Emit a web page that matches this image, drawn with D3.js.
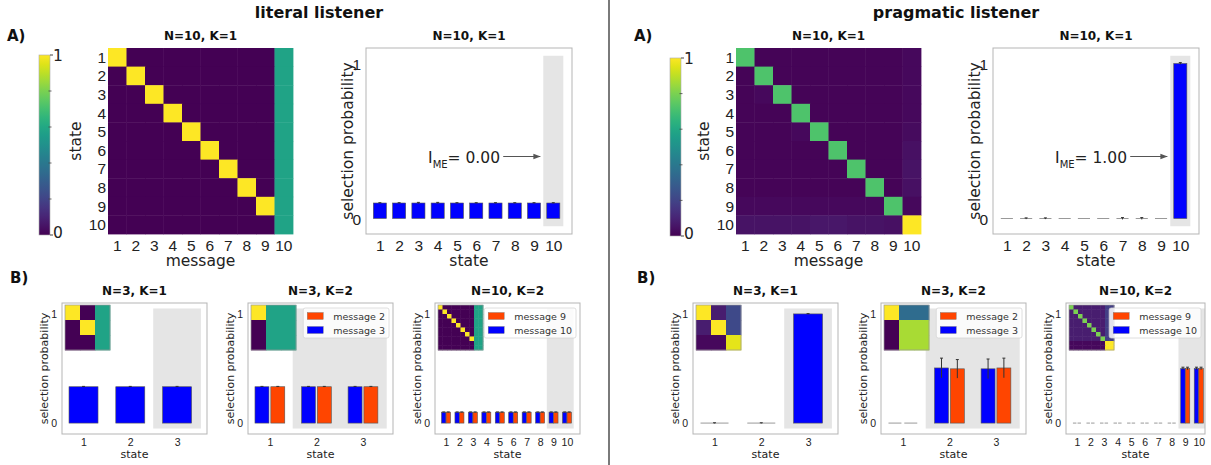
<!DOCTYPE html>
<html><head><meta charset="utf-8">
<script src="https://cdn.jsdelivr.net/npm/d3@7"></script>
<style>body{margin:0;background:#fff} svg{display:block;font-family:"DejaVu Sans",sans-serif}</style>
</head><body><svg id="c" width="1211" height="465"></svg>
<script>
// ---------------- DATA ----------------
const states10 = [1,2,3,4,5,6,7,8,9,10];
const states3 = [1,2,3];
const headers = ["literal listener", "pragmatic listener"];
const titlesTop = ["N=10, K=1", "N=10, K=1"];
const titlesBottom = ["N=3, K=1", "N=3, K=2", "N=10, K=2"];
const imeLabels = ["= 0.00", "= 1.00"];

// top heatmaps (rows = state, cols = message)
const litHeatN10K1 = [
 [1,0,0,0,0,0,0,0,0,0.58],
 [0,1,0,0,0,0,0,0,0,0.58],
 [0,0,1,0,0,0,0,0,0,0.58],
 [0,0,0,1,0,0,0,0,0,0.58],
 [0,0,0,0,1,0,0,0,0,0.58],
 [0,0,0,0,0,1,0,0,0,0.58],
 [0,0,0,0,0,0,1,0,0,0.58],
 [0,0,0,0,0,0,0,1,0,0.58],
 [0,0,0,0,0,0,0,0,1,0.58],
 [0,0,0,0,0,0,0,0,0,0.58]
];
const pragHeatN10K1 = [
 [0.72,0.01,0.01,0.01,0.01,0.01,0.01,0.01,0.01,0.02],
 [0.01,0.72,0.01,0.01,0.01,0.01,0.01,0.01,0.01,0.02],
 [0.01,0.02,0.72,0.01,0.01,0.01,0.01,0.01,0.01,0.02],
 [0.01,0.01,0.01,0.72,0.01,0.01,0.01,0.01,0.01,0.02],
 [0.01,0.01,0.01,0.02,0.72,0.01,0.01,0.01,0.01,0.03],
 [0.01,0.01,0.01,0.01,0.01,0.72,0.01,0.01,0.01,0.04],
 [0.01,0.01,0.01,0.01,0.01,0.01,0.72,0.01,0.01,0.05],
 [0.01,0.01,0.01,0.01,0.01,0.01,0.01,0.72,0.01,0.04],
 [0.02,0.02,0.02,0.02,0.02,0.02,0.02,0.02,0.72,0.02],
 [0.05,0.05,0.05,0.05,0.06,0.06,0.05,0.05,0.04,1.00]
];

// top bar charts (selection probability per state)
const litTopValues = [0.1,0.1,0.1,0.1,0.1,0.1,0.1,0.1,0.1,0.1];
const litTopErr    = [0.002,0.002,0.004,0.004,0.002,0.002,0.002,0.002,0.002,0.002];
const pragTopValues = [0,0,0,0,0,0,0,0,0,1.0];
const pragTopErr    = [0,0.004,0.004,0,0,0,0.006,0.006,0,0.006];

// bottom insets
const litInsetN3K1 = [[1,0,0.58],[0,1,0.58],[0,0,0.58]];
const litInsetN3K2 = [[1,0.58,0.58],[0,0.58,0.58],[0,0.58,0.58]];
const litInsetN10K2 = [
 [1,0,0,0,0,0,0,0,0.58,0.58],
 [0,1,0,0,0,0,0,0,0.58,0.58],
 [0,0,1,0,0,0,0,0,0.58,0.58],
 [0,0,0,1,0,0,0,0,0.58,0.58],
 [0,0,0,0,1,0,0,0,0.58,0.58],
 [0,0,0,0,0,1,0,0,0.58,0.58],
 [0,0,0,0,0,0,1,0,0.58,0.58],
 [0,0,0,0,0,0,0,1,0.58,0.58],
 [0,0,0,0,0,0,0,0,0.58,0.58],
 [0,0,0,0,0,0,0,0,0.58,0.58]
];
const pragInsetN3K1 = [[1,0.08,0.22],[0.08,1,0.22],[0.02,0.02,0.96]];
const pragInsetN3K2 = [[1,0.35,0.35],[0,0.87,0.87],[0,0.87,0.87]];
const pragInsetN10K2 = [
 [0.8,0.08,0.08,0.08,0.08,0.08,0.08,0.08,0.18,0.18],
 [0.08,0.8,0.08,0.08,0.08,0.08,0.08,0.08,0.18,0.18],
 [0.08,0.08,0.8,0.08,0.08,0.08,0.08,0.08,0.18,0.18],
 [0.08,0.08,0.08,0.8,0.08,0.08,0.08,0.08,0.18,0.18],
 [0.08,0.08,0.08,0.08,0.8,0.08,0.08,0.08,0.18,0.18],
 [0.08,0.08,0.08,0.08,0.08,0.8,0.08,0.08,0.18,0.18],
 [0.08,0.08,0.08,0.08,0.08,0.08,0.8,0.08,0.18,0.18],
 [0.08,0.08,0.08,0.08,0.08,0.08,0.08,0.8,0.18,0.18],
 [0.02,0.02,0.02,0.02,0.02,0.02,0.02,0.02,1,1],
 [0.02,0.02,0.02,0.02,0.02,0.02,0.02,0.02,1,1]
];

// bottom bars
const litN3K1Values = [0.333,0.333,0.333];
const litN3K1Err    = [0.003,0.003,0.003];
const litN3K2Msg3   = [0.333,0.333,0.333];
const litN3K2Msg2   = [0.333,0.333,0.333];
const litN3K2Err    = [0.003,0.003,0.003];
const litN10K2Msg10 = [0.1,0.1,0.1,0.1,0.1,0.1,0.1,0.1,0.1,0.1];
const litN10K2Msg9  = [0.1,0.1,0.1,0.1,0.1,0.1,0.1,0.1,0.1,0.1];
const litN10K2Err   = [0.002,0.002,0.002,0.002,0.002,0.002,0.002,0.002,0.002,0.002];

const pragN3K1Values = [0,0,1.0];
const pragN3K1Err    = [0.003,0.003,0.003];
const pragN3K2Msg3   = [0,0.505,0.497];
const pragN3K2Msg2   = [0,0.497,0.505];
const pragN3K2Err3   = [0,0.09,0.09];
const pragN3K2Err2   = [0,0.085,0.09];
const pragN10K2Msg10 = [0,0,0,0,0,0,0,0,0.5,0.5];
const pragN10K2Msg9  = [0,0,0,0,0,0,0,0,0.5,0.5];
const pragN10K2Err   = [0,0,0,0,0,0,0,0,0.012,0.012];

const legendN3  = ["message 2", "message 3"];
const legendN10 = ["message 9", "message 10"];

// ---------------- DRAWING ----------------
const BLUE = "#0000ff", ORANGE = "#ff4500", SHADE = "#e5e5e5", FRAME = "#b5b5b5";
const svg = d3.select("#c");
const viridis = d3.scaleSequential(d3.interpolateViridis).domain([0, 1]);

// colorbar gradient
const defs = svg.append("defs");
const grad = defs.append("linearGradient").attr("id", "vir").attr("x1", 0).attr("y1", 1).attr("x2", 0).attr("y2", 0);
d3.range(0, 1.0001, 0.05).forEach(t => grad.append("stop").attr("offset", t).attr("stop-color", viridis(t)));
defs.append("marker").attr("id", "arr").attr("viewBox", "0 0 10 10").attr("refX", 10).attr("refY", 5)
  .attr("markerWidth", 7).attr("markerHeight", 7).attr("markerUnits", "userSpaceOnUse").attr("orient", "auto")
  .append("path").attr("d", "M0,1 L10,5 L0,9 z").attr("fill", "#555");

function txt(g, x, y, s, size, opt = {}) {
  return g.append("text").attr("x", x).attr("y", y).text(s)
    .attr("font-size", size).attr("font-weight", opt.bold ? "bold" : null)
    .attr("text-anchor", opt.anchor || "start").attr("fill", opt.fill || "#222")
    .attr("transform", opt.rot ? `rotate(-90,${x},${y})` : null);
}

function heatmap(g, m, b, axes) {
  const xs = d3.scaleBand().domain(d3.range(m[0].length)).range([b.x0, b.x1]);
  const ys = d3.scaleBand().domain(d3.range(m.length)).range([b.y0, b.y1]);
  g.append("g").selectAll("rect").data(m.flatMap((row, i) => row.map((v, j) => ({ i, j, v }))))
    .join("rect").attr("x", d => xs(d.j)).attr("y", d => ys(d.i))
    .attr("width", xs.bandwidth() + 0.4).attr("height", ys.bandwidth() + 0.4)
    .attr("fill", d => viridis(d.v));
  if (!axes) {
    g.append("rect").attr("x", b.x0).attr("y", b.y0).attr("width", b.x1 - b.x0).attr("height", b.y1 - b.y0)
      .attr("fill", "none").attr("stroke", "#999").attr("stroke-width", 0.7);
    return;
  }
  const ax = g.append("g").attr("transform", `translate(0,${b.y1})`)
    .call(d3.axisBottom(xs).tickSize(0).tickFormat(i => i + 1));
  ax.select(".domain").remove();
  ax.selectAll("text").attr("y", 17).attr("dy", null).attr("font-size", 15.5).attr("fill", "#222").attr("font-family", null);
  const ay = g.append("g").attr("transform", `translate(${b.x0},0)`)
    .call(d3.axisLeft(ys).tickSize(0).tickFormat(i => i + 1));
  ay.select(".domain").remove();
  ay.selectAll("text").attr("x", -2).attr("dy", "0.36em").attr("font-size", 15.5).attr("fill", "#222").attr("font-family", null);
}

function colorbar(g, c) {
  g.append("rect").attr("x", c.x).attr("y", c.y0).attr("width", c.w).attr("height", c.y1 - c.y0)
    .attr("fill", "url(#vir)").attr("stroke", "#aaa").attr("stroke-width", 0.6);
  const s = d3.scaleLinear().domain([0, 1]).range([c.y1, c.y0]);
  g.selectAll(null).data([0.2, 0.4, 0.6, 0.8]).join("line")
    .attr("x1", c.x + c.w - 1.5).attr("x2", c.x + c.w + 1.5).attr("y1", d => s(d)).attr("y2", d => s(d))
    .attr("stroke", "#444").attr("stroke-width", 0.8);
  g.append("line").attr("x1", c.x + c.w).attr("x2", c.x + c.w + 3).attr("y1", c.y0).attr("y2", c.y0).attr("stroke", "#444");
  g.append("line").attr("x1", c.x + c.w).attr("x2", c.x + c.w + 3).attr("y1", c.y1).attr("y2", c.y1).attr("stroke", "#444");
  txt(g, c.x + c.w + 3, s(1) + 6, "1", 15.5);
  txt(g, c.x + c.w + 3, s(0) + 3, "0", 15.5);
}

function barPanel(g, o) {
  const x = d3.scaleLinear().domain(o.xDomain).range([o.x0, o.x1]);
  const y = d3.scaleLinear().domain([-0.1, 1.1]).range([o.y1, o.y0]);
  g.append("rect").attr("x", x(o.shade[0])).attr("width", Math.min(x(o.shade[1]), o.x1) - x(o.shade[0]))
    .attr("y", y(1.05)).attr("height", y(-0.05) - y(1.05)).attr("fill", SHADE);
  o.series.forEach(s => {
    const w = x(s.width) - x(0);
    const data = o.states.map((st, i) => ({ cx: x(st + s.offset), v: s.values[i], e: s.err[i] }));
    const gs = g.append("g");
    gs.selectAll("rect").data(data.filter(d => d.v > 0)).join("rect")
      .attr("x", d => d.cx - w / 2).attr("width", w).attr("y", d => y(d.v)).attr("height", d => y(0) - y(d.v))
      .attr("fill", s.color).attr("stroke", "#555").attr("stroke-width", 0.6);
    gs.selectAll("line.z").data(data.filter(d => d.v === 0)).join("line").attr("class", "z")
      .attr("x1", d => d.cx - w / 2 + 0.5).attr("x2", d => d.cx + w / 2 - 0.5).attr("y1", y(0)).attr("y2", y(0))
      .attr("stroke", "#999").attr("stroke-width", 1);
    gs.selectAll("line.e").data(data.filter(d => d.e > 0)).join("line").attr("class", "e")
      .attr("x1", d => d.cx).attr("x2", d => d.cx).attr("y1", d => y(d.v - d.e)).attr("y2", d => y(d.v + d.e))
      .attr("stroke", "#333").attr("stroke-width", 1);
    gs.selectAll("line.c").data(data.filter(d => d.e > 0)).join("line").attr("class", "c")
      .attr("x1", d => d.cx - 1.5).attr("x2", d => d.cx + 1.5).attr("y1", d => y(d.v + d.e)).attr("y2", d => y(d.v + d.e))
      .attr("stroke", "#333").attr("stroke-width", 1);
  });
  g.append("rect").attr("x", o.x0).attr("y", o.y0).attr("width", o.x1 - o.x0).attr("height", o.y1 - o.y0)
    .attr("fill", "none").attr("stroke", FRAME).attr("stroke-width", 1);
  if (o.inset) heatmap(g, o.inset, { x0: o.x0 + 3, x1: o.x0 + 48, y0: o.y0 + 2, y1: o.y0 + 47 }, false);
  if (o.legend) {
    const lg = g.append("g");
    const items = o.legend;
    const tmp = txt(lg, 0, 0, items[1].label, 9.5);
    const tw = tmp.node().getComputedTextLength(); tmp.remove();
    const W = 30 + tw + 4, lx = o.x1 - 4 - W, ly = o.y0 + 5;
    lg.append("rect").attr("x", lx).attr("y", ly).attr("width", W).attr("height", 30).attr("rx", 2)
      .attr("fill", "#fff").attr("fill-opacity", 0.85).attr("stroke", "#d5d5d5").attr("stroke-width", 0.8);
    items.forEach((it, k) => {
      const cy = ly + 8 + 14 * k;
      lg.append("rect").attr("x", lx + 4).attr("y", cy - 3.5).attr("width", 16).attr("height", 7)
        .attr("fill", it.color).attr("stroke", "#777").attr("stroke-width", 0.4);
      txt(lg, lx + 30, cy + 3.5, it.label, 9.5, { fill: "#333" });
    });
  }
  // axes
  const ax = g.append("g").attr("transform", `translate(0,${o.y1})`)
    .call(d3.axisBottom(x).tickValues(o.states).tickSize(0).tickFormat(d3.format("d")));
  ax.select(".domain").remove();
  ax.selectAll("text").attr("y", o.tickDy).attr("dy", null).attr("font-size", o.tickSize).attr("fill", "#222").attr("font-family", null);
  const ay = g.append("g").attr("transform", `translate(${o.x0},0)`)
    .call(d3.axisLeft(y).tickValues([0, 1]).tickSize(0).tickFormat(d3.format("d")));
  ay.select(".domain").remove();
  ay.selectAll("text").attr("x", -5).attr("dy", "0.36em").attr("font-size", o.tickSize).attr("fill", "#222").attr("font-family", null);
  txt(g, (o.x0 + o.x1) / 2, o.y0 - 8, o.title, 12, { bold: true, anchor: "middle", fill: "#111" });
  txt(g, (o.x0 + o.x1) / 2, o.xlabY, "state", o.labelSize, { anchor: "middle" });
  txt(g, o.ylabX, (o.y0 + o.y1) / 2, "selection probability", o.labelSize, { anchor: "middle", rot: true });
  if (o.ime) {
    const t = g.append("text").attr("x", x(o.ime.tx)).attr("y", y(0.4) + 6).attr("font-size", 15.5).attr("fill", "#222");
    t.append("tspan").text("I");
    t.append("tspan").text("ME").attr("font-size", 10).attr("dy", 5);
    t.append("tspan").text(o.ime.label).attr("dy", -5);
    g.append("line").attr("x1", x(7.4)).attr("x2", x(9.33)).attr("y1", y(0.4)).attr("y2", y(0.4))
      .attr("stroke", "#555").attr("stroke-width", 1.2).attr("marker-end", "url(#arr)");
  }
}

// ---------- layout ----------
const sides = [
  { header: 319, A: 7, B: 10, cbar: { x: 39, w: 11, y0: 55, y1: 235 }, heat: { x0: 108, x1: 293, y0: 48, y1: 234 },
    bar: [366, 572], bottom: [[62, 207], [248, 393], [435, 580]], n10dom: [0.18, 10.97],
    heatData: litHeatN10K1, topVals: litTopValues, topErr: litTopErr, ime: imeLabels[0],
    insets: [litInsetN3K1, litInsetN3K2, litInsetN10K2],
    b1: [{ v: litN3K1Values, e: litN3K1Err }],
    b2: [{ v: litN3K2Msg3, e: litN3K2Err }, { v: litN3K2Msg2, e: litN3K2Err }],
    b3: [{ v: litN10K2Msg10, e: litN10K2Err }, { v: litN10K2Msg9, e: litN10K2Err }] },
  { header: 956, A: 634, B: 637, cbar: { x: 670, w: 11, y0: 58, y1: 236 }, heat: { x0: 736, x1: 921, y0: 48, y1: 234 },
    bar: [993, 1199], bottom: [[693, 838], [881, 1026], [1066, 1205]], n10dom: [0.19, 10.46],
    heatData: pragHeatN10K1, topVals: pragTopValues, topErr: pragTopErr, ime: imeLabels[1],
    insets: [pragInsetN3K1, pragInsetN3K2, pragInsetN10K2],
    b1: [{ v: pragN3K1Values, e: pragN3K1Err }],
    b2: [{ v: pragN3K2Msg3, e: pragN3K2Err3 }, { v: pragN3K2Msg2, e: pragN3K2Err2 }],
    b3: [{ v: pragN10K2Msg10, e: pragN10K2Err }, { v: pragN10K2Msg9, e: pragN10K2Err }] }
];

// divider
svg.append("line").attr("x1", 609).attr("x2", 609).attr("y1", 0).attr("y2", 465).attr("stroke", "#7a7a7a").attr("stroke-width", 2);

sides.forEach((S, si) => {
  const g = svg.append("g");
  txt(g, S.header, 18, headers[si], 16, { bold: true, anchor: "middle", fill: "#111" });
  txt(g, S.A, 41, "A)", 15, { bold: true, fill: "#111" });
  txt(g, S.B, 283, "B)", 15, { bold: true, fill: "#111" });
  colorbar(g, S.cbar);
  heatmap(g, S.heatData, S.heat, true);
  txt(g, (S.heat.x0 + S.heat.x1) / 2, 40, titlesTop[si], 12, { bold: true, anchor: "middle", fill: "#111" });
  txt(g, (S.heat.x0 + S.heat.x1) / 2, 266, "message", 15.5, { anchor: "middle" });
  txt(g, S.heat.x0 - 27, (S.heat.y0 + S.heat.y1) / 2, "state", 15.5, { anchor: "middle", rot: true });

  barPanel(g, { x0: S.bar[0], x1: S.bar[1], y0: 48, y1: 234, xDomain: [0.28, 10.97], states: states10,
    shade: [9.48, 10.52], series: [{ values: S.topVals, err: S.topErr, color: BLUE, offset: 0, width: 0.68 }],
    title: titlesTop[si], tickSize: 15.5, tickDy: 17, labelSize: 15.5, xlabY: 266, ylabX: S.bar[0] - 13,
    ime: { tx: 3.5, label: S.ime } });

  const bcommon = { y0: 303, y1: 434, tickSize: 10.5, tickDy: 12, labelSize: 11, xlabY: 458 };
  const [p1, p2, p3] = S.bottom;
  barPanel(g, Object.assign({}, bcommon, { x0: p1[0], x1: p1[1], xDomain: [0.54, 3.64], states: states3,
    shade: [2.49, 3.51], series: [{ values: S.b1[0].v, err: S.b1[0].e, color: BLUE, offset: 0, width: 0.62 }],
    inset: S.insets[0], title: titlesBottom[0], ylabX: p1[0] - 14 }));
  barPanel(g, Object.assign({}, bcommon, { x0: p2[0], x1: p2[1], xDomain: [0.53, 3.645], states: states3,
    shade: [1.49, 3.51], series: [
      { values: S.b2[0].v, err: S.b2[0].e, color: BLUE, offset: -0.17, width: 0.3 },
      { values: S.b2[1].v, err: S.b2[1].e, color: ORANGE, offset: 0.17, width: 0.3 }],
    inset: S.insets[1], title: titlesBottom[1], ylabX: p2[0] - 14,
    legend: [{ label: legendN3[0], color: ORANGE }, { label: legendN3[1], color: BLUE }] }));
  barPanel(g, Object.assign({}, bcommon, { x0: p3[0], x1: p3[1], xDomain: S.n10dom, states: states10,
    shade: [8.5, 10.5], series: [
      { values: S.b3[0].v, err: S.b3[0].e, color: BLUE, offset: -0.17, width: 0.33 },
      { values: S.b3[1].v, err: S.b3[1].e, color: ORANGE, offset: 0.17, width: 0.33 }],
    inset: S.insets[2], title: titlesBottom[2], ylabX: p3[0] - 14,
    legend: [{ label: legendN10[0], color: ORANGE }, { label: legendN10[1], color: BLUE }] }));
});
</script>
</body></html>
